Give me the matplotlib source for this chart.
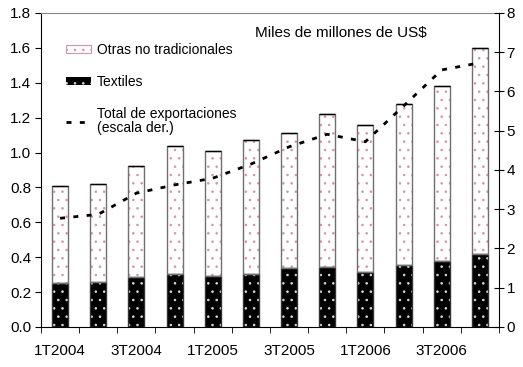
import numpy as np
import matplotlib.pyplot as plt
from matplotlib.lines import Line2D
from matplotlib.patches import Patch

plt.rcParams['font.family'] = ['Liberation Sans', 'DejaVu Sans']
plt.rcParams['hatch.linewidth'] = 0.6

# trimestres 2004-2006
trimestres = ['1T2004', '2T2004', '3T2004', '4T2004',
              '1T2005', '2T2005', '3T2005', '4T2005',
              '1T2006', '2T2006', '3T2006', '4T2006']
# miles de millones de US$ (escala izq.)
textiles = [0.253, 0.257, 0.287, 0.301, 0.291, 0.303, 0.339, 0.345, 0.314, 0.358, 0.381, 0.417]
total_no_trad = [0.81, 0.821, 0.925, 1.04, 1.01, 1.07, 1.11, 1.22, 1.16, 1.278, 1.383, 1.598]
otras = [t - x for t, x in zip(total_no_trad, textiles)]
# total de exportaciones (escala der.)
total_export = [2.77, 2.87, 3.41, 3.62, 3.79, 4.15, 4.59, 4.91, 4.72, 5.63, 6.55, 6.73]

x = np.arange(len(trimestres))
w = 0.42
pink = '#d890b0'
dash = (0, (1.8, 3.0))

fig = plt.figure(figsize=(5.23, 3.67), dpi=100)
ax = fig.add_axes([0.0784, 0.109, 0.8756, 0.8556])

# textiles: negro con puntos blancos
ax.bar(x, textiles, w, color='black', edgecolor='#dddddd', hatch='..', linewidth=0, zorder=2)
ax.bar(x, textiles, w, fill=False, edgecolor='#333333', linewidth=1, zorder=3)
# otras no tradicionales: blanco con puntos rosados
ax.bar(x, otras, w, bottom=textiles, color='white', edgecolor=pink, hatch='..',
       linewidth=0, zorder=2)
ax.bar(x, otras, w, bottom=textiles, fill=False, edgecolor='#707070', linewidth=1, zorder=3)
ax.hlines(total_no_trad, x - w / 2, x + w / 2, color='black', lw=1, zorder=4)

ax.set_xlim(-0.5, len(x) - 0.5)
ax.set_ylim(0, 1.8)
ax.set_yticks(np.arange(0, 1.81, 0.2))
ax.set_yticklabels([f'{v:.1f}' for v in np.arange(0, 1.81, 0.2)])

ax.set_xticks(x[::2])
ax.set_xticklabels(trimestres[::2])
ax.set_xticks(np.arange(-0.5, len(x), 1), minor=True)
ax.tick_params(axis='x', which='major', length=0, pad=12, labelsize=11)
ax.tick_params(axis='x', which='minor', length=4, direction='out', color='black')
ax.tick_params(axis='y', length=4, direction='out', labelsize=11, pad=3)

for s in ['left', 'bottom']:
    ax.spines[s].set_color('black')
ax.spines['top'].set_color('#888888')
ax.spines['right'].set_visible(False)

ax2 = ax.twinx()
ax2.plot(x, total_export, color='black', lw=2, linestyle=dash, zorder=5)
ax2.set_ylim(0, 8)
ax2.set_yticks(range(0, 9))
ax2.tick_params(axis='y', length=7, direction='inout', labelsize=11, pad=2)
ax2.spines['right'].set_color('black')
ax2.spines['top'].set_visible(False)
ax2.spines['left'].set_visible(False)
ax2.spines['bottom'].set_visible(False)

fig.text(0.488, 0.91, 'Miles de millones de US$', fontsize=11, va='center')

handles = [
    Patch(facecolor='white', edgecolor=pink, hatch='..', linewidth=0),
    Patch(facecolor='black', edgecolor='#dddddd', hatch='..', linewidth=0),
    Line2D([0], [0], color='black', lw=2, linestyle=dash),
]
labels = ['Otras no tradicionales', 'Textiles', 'Total de exportaciones\n(escala der.)']
leg = ax.legend(handles, labels, loc='upper left', bbox_to_anchor=(0.0546, 0.905),
                frameon=False, fontsize=10, handlelength=1.8, handleheight=0.5,
                handletextpad=0.4, labelspacing=1.3, borderaxespad=0, borderpad=0)
leg.set_zorder(10)
for t in leg.get_texts():
    t.set_linespacing(1.05)
leg.legend_handles[0].set_linewidth(0.8)
leg.legend_handles[0].set_edgecolor(pink)

fig.savefig('out.png', dpi=100)
